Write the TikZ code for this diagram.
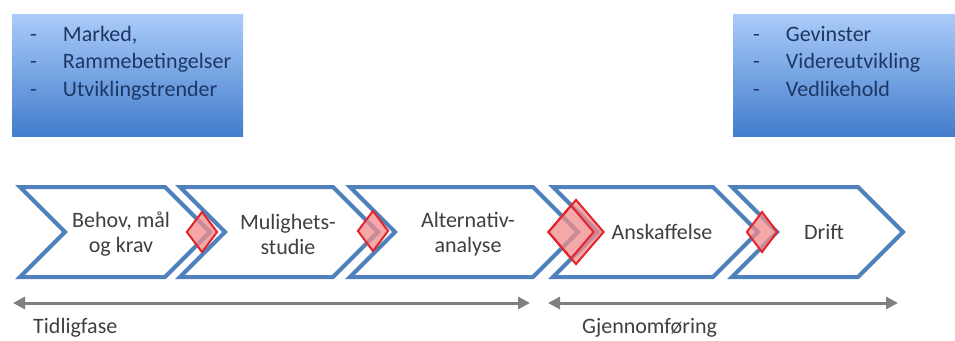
\documentclass[tikz,border=0pt]{standalone}
\usepackage{fontspec}
\setmainfont{Carlito}
\usepackage{tikz}
\usetikzlibrary{arrows.meta, positioning, shapes.geometric}

\definecolor{chevblue}{RGB}{79,129,189}
\definecolor{gatered}{RGB}{226,38,44}
\definecolor{gatefill}{RGB}{242,140,140}
\definecolor{boxtop}{RGB}{170,204,249}
\definecolor{boxbot}{RGB}{66,124,204}
\definecolor{boxtext}{RGB}{30,55,100}
\definecolor{darktext}{RGB}{64,64,64}
\definecolor{phasegray}{RGB}{128,128,128}

\begin{document}
\begin{tikzpicture}[
  x=1pt, y=-1pt,
  stage/.style={draw=chevblue, line width=4pt, fill=white},
  stagetext/.style={align=center, inner sep=0pt, text=darktext,
    font=\fontsize{22}{25}\selectfont},
  gate/.style={
    diamond, draw=gatered, line width=2pt, fill=gatefill, fill opacity=0.75,
    inner sep=0pt, minimum width=31pt, minimum height=41pt
  },
  infobox/.style={
    rectangle, top color=boxtop, bottom color=boxbot,
    minimum height=122pt, inner sep=0pt
  },
  infotext/.style={
    align=left, inner sep=0pt, text=boxtext,
    font=\fontsize{22}{27.5}\selectfont
  },
  phase/.style={{Triangle[length=12pt, width=12pt]}-{Triangle[length=12pt, width=12pt]},
    line width=3pt, phasegray},
  phaselabel/.style={font=\fontsize{22}{25}\selectfont, text=darktext, inner sep=0pt},
]
  \useasboundingbox[fill=white] (0,0) rectangle (955,340);

  % Info boxes
  \node[infobox, minimum width=231pt] (marked) at (127.5,75) {};
  \node[infotext, below right=12pt and 18pt of marked.north west] (markedtxt)
    {\makebox[33pt][l]{-}Marked,\\
     \makebox[33pt][l]{-}Rammebetingelser\\
     \makebox[33pt][l]{-}Utviklingstrender};
  \node[infobox, minimum width=227pt] (gevinst) at (846.5,75) {};
  \node[infotext, below right=12pt and 20pt of gevinst.north west] (gevinsttxt)
    {\makebox[33pt][l]{-}Gevinster\\
     \makebox[33pt][l]{-}Videreutvikling\\
     \makebox[33pt][l]{-}Vedlikehold};

  % Stages
  \draw[stage] (20,187) -- (165,187) -- (210,232) -- (165,277) -- (20,277) -- (65,232) -- cycle;
  \draw[stage] (180,187) -- (333,187) -- (378,232) -- (333,277) -- (180,277) -- (225,232) -- cycle;
  \draw[stage] (350,187) -- (533,187) -- (578,232) -- (533,277) -- (350,277) -- (395,232) -- cycle;
  \draw[stage] (553,187) -- (713,187) -- (758,232) -- (713,277) -- (553,277) -- (598,232) -- cycle;
  \draw[stage] (732,187) -- (858,187) -- (903,232) -- (858,277) -- (732,277) -- (777,232) -- cycle;
  \node[stagetext] (behov) at (121,234) {Behov, mål\\og krav};
  \node[stagetext] (mulig) at (288,234) {Mulighets-\\studie};
  \node[stagetext] (altern) at (468,234) {Alternativ-\\analyse};
  \node[stagetext] (anskaff) at (662,232) {Anskaffelse};
  \node[stagetext] (drift) at (824,232) {Drift};

  % Decision gates
  \node[gate] (gate1) at (202,232) {};
  \node[gate] (gate2) at (373,231) {};
  \node[gate, minimum width=56pt, minimum height=65pt] (gate3) at (576,232) {};
  \node[gate, fill=none, minimum width=46pt, minimum height=54pt] (gate3b) at (571,232) {};
  \node[gate] (gate4) at (762,232) {};

  % Phases
  \coordinate (tidstart) at (13,303);
  \coordinate (tidend) at (530,303);
  \draw[phase] (tidstart) -- (tidend);
  \node[phaselabel, below right=15.5pt and 20pt of tidstart] (tidlig) {Tidligfase};

  \coordinate (gjstart) at (548,303);
  \coordinate (gjend) at (898,303);
  \draw[phase] (gjstart) -- (gjend);
  \node[phaselabel, below right=15.5pt and 34pt of gjstart] (gjennom) {Gjennomføring};

\end{tikzpicture}
\end{document}
